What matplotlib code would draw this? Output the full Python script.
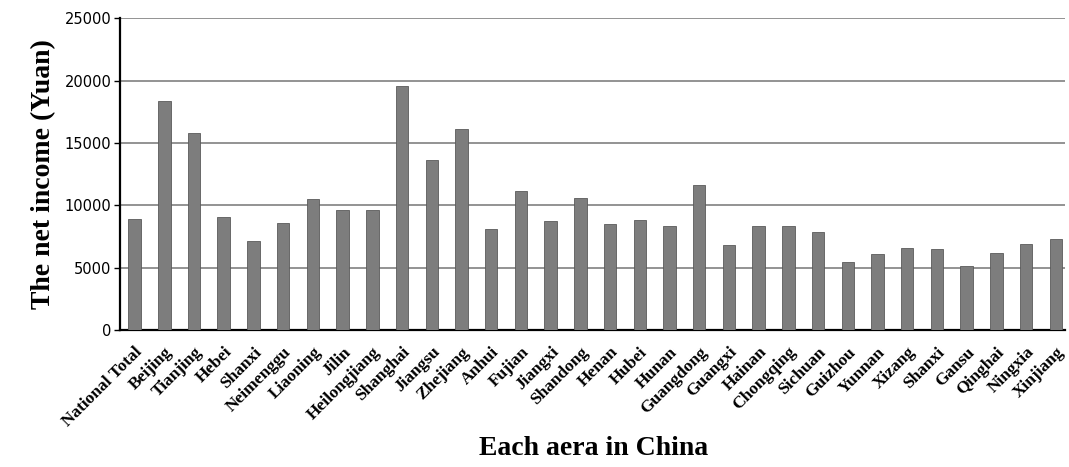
import matplotlib
matplotlib.use("Agg")
import matplotlib.pyplot as plt

# regions, in the order shown on the x axis
areas = ["National Total", "Beijing", "Tianjing", "Hebei", "Shanxi", "Neimenggu",
         "Liaoning", "Jilin", "Heilongjiang", "Shanghai", "Jiangsu", "Zhejiang",
         "Anhui", "Fujian", "Jiangxi", "Shandong", "Henan", "Hubei", "Hunan",
         "Guangdong", "Guangxi", "Hainan", "Chongqing", "Sichuan", "Guizhou",
         "Yunnan", "Xizang", "Shanxi", "Gansu", "Qinghai", "Ningxia", "Xinjiang"]

# net income per region (Yuan)
income = [8896, 18337, 15841, 9102, 7154, 8596,
          10523, 9621, 9634, 19595, 13598, 16106,
          8098, 11184, 8781, 10620, 8475, 8867, 8372,
          11669, 6791, 8343, 8332, 7895, 5434,
          6141, 6578, 6503, 5108, 6196, 6931, 7297]

y_ticks = [0, 5000, 10000, 15000, 20000, 25000]

fig = plt.figure(figsize=(10.69, 4.67), dpi=100)
ax = fig.add_axes([0.112, 0.293, 0.884, 0.668])

x = range(len(areas))
ax.bar(x, income, width=0.42, color="#7d7d7d", edgecolor="#5a5a5a",
       linewidth=0.6, zorder=3)

ax.set_ylim(0, 25000)
ax.set_xlim(-0.5, 31.3)
ax.set_yticks(y_ticks)
ax.set_yticklabels([str(v) for v in y_ticks], fontsize=10.5,
                   family="DejaVu Sans")
ax.grid(True, axis="y", color="#808080", lw=1.2, zorder=0)

ax.set_xticks(list(x))
ax.set_xticklabels(areas, rotation=45, ha="right", rotation_mode="anchor",
                   fontsize=12.5, family="Liberation Serif", fontweight="bold")
ax.tick_params(axis="x", length=0, pad=10)
ax.tick_params(axis="y", length=4, width=1, direction="out", pad=2)

for side in ("top", "right"):
    ax.spines[side].set_visible(False)
ax.spines["left"].set_linewidth(1.6)
ax.spines["bottom"].set_linewidth(1.6)

ax.set_ylabel("The net income (Yuan)", fontsize=20, family="Liberation Serif",
              fontweight="bold", labelpad=6)
fig.text(0.555, 0.04, "Each aera in China", ha="center", va="center",
         fontsize=20, family="Liberation Serif", fontweight="bold")

fig.savefig("out.png", dpi=100)
